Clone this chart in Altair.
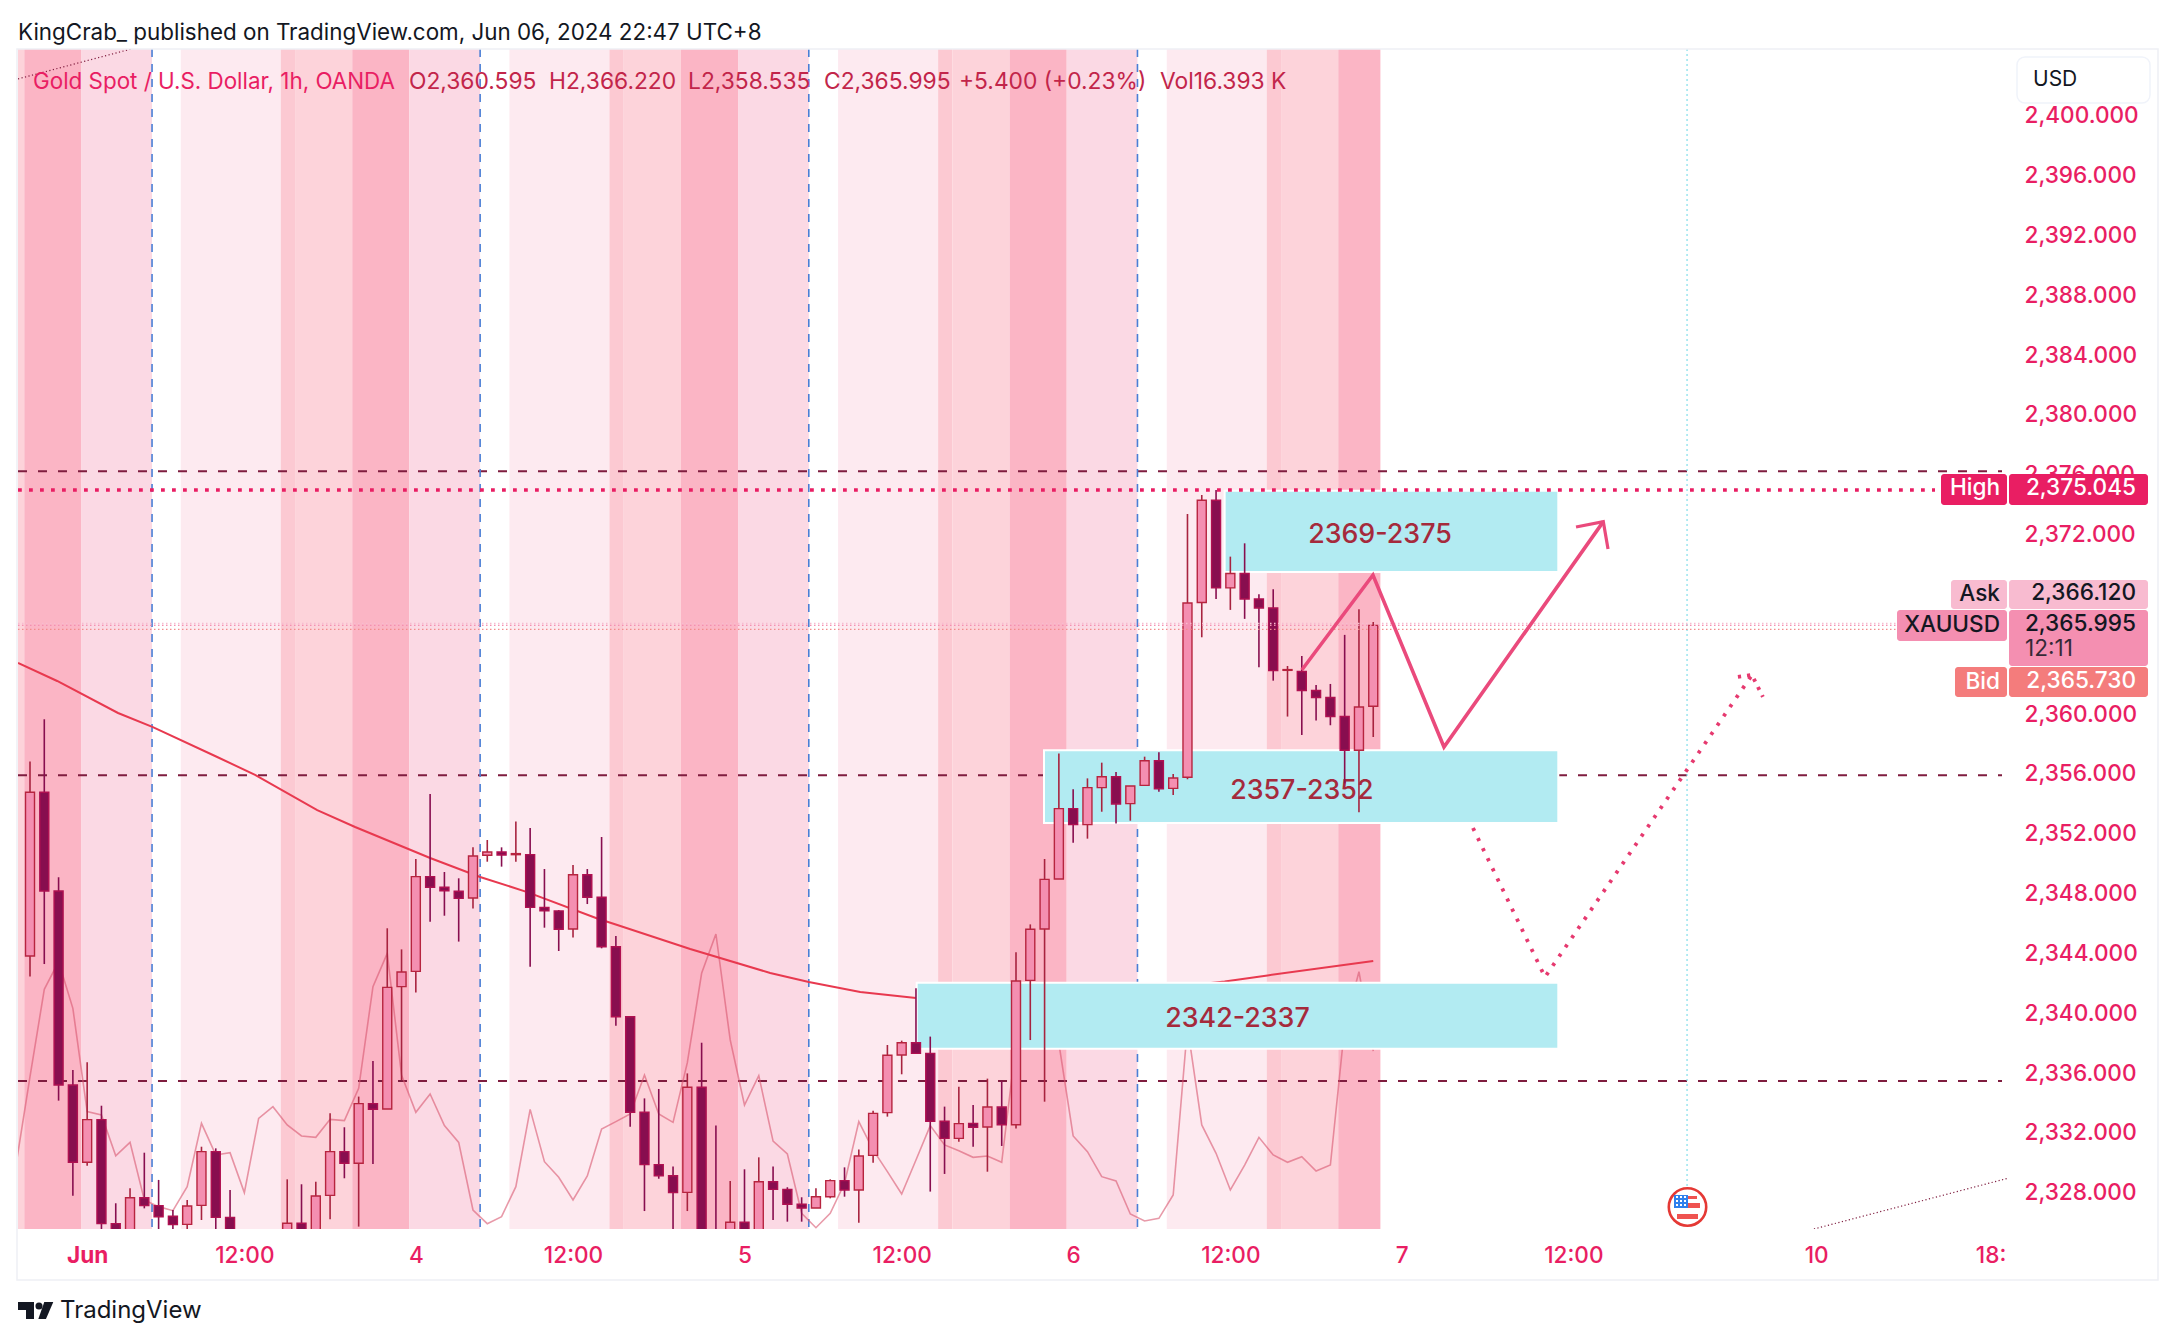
import altair as alt
import pandas as pd

FONT = "Inter"
INK = "#131722"
PINK = "#e91e63"

# ---------- candles (bar number, prices) ----------
candle_index = list(range(0, 15)) + list(range(18, 95))
candle_open = [2343.90, 2354.84, 2348.24, 2335.27, 2330.11, 2332.96, 2326.01, 2324.25, 2327.74, 2327.21,
               2326.50, 2325.96, 2327.23, 2330.82, 2326.43,
               2324.69, 2326.03, 2324.69, 2327.90, 2330.82, 2330.04, 2334.03, 2333.67, 2341.85, 2342.87,
               2349.20, 2348.49, 2348.22, 2347.77, 2350.63, 2350.85, 2350.67, 2350.67, 2347.15, 2346.91,
               2345.70, 2349.33, 2347.82, 2344.52, 2339.84, 2333.45, 2329.95, 2329.21, 2328.10, 2335.12,
               2324.69, 2324.69, 2326.10, 2324.69, 2328.81, 2328.30, 2327.30, 2327.05, 2327.81, 2328.88,
               2328.26, 2330.57, 2333.43, 2337.28, 2338.10, 2337.39, 2332.85, 2331.71, 2332.71, 2332.47,
               2333.80, 2332.62, 2342.27, 2345.70, 2349.04, 2353.75, 2352.68, 2355.15, 2355.88, 2354.08,
               2355.30, 2356.95, 2355.10, 2355.84, 2367.52, 2374.36, 2368.50, 2369.46, 2367.76, 2367.16,
               2362.99, 2362.91, 2361.64, 2361.17, 2359.90, 2357.65, 2360.595]
candle_close = [2354.84, 2348.24, 2335.27, 2330.11, 2332.96, 2326.01, 2324.69, 2327.74, 2327.21, 2326.47,
                2325.94, 2327.19, 2330.82, 2326.43, 2324.91,
                2326.03, 2324.69, 2327.86, 2330.82, 2330.04, 2334.03, 2333.65, 2341.80, 2342.83, 2349.20,
                2348.49, 2348.26, 2347.75, 2350.58, 2350.85, 2350.65, 2350.74, 2347.15, 2346.91, 2345.68,
                2349.33, 2347.82, 2344.52, 2339.84, 2333.45, 2329.95, 2329.21, 2328.08, 2335.12, 2324.69,
                2323.58, 2326.10, 2324.69, 2328.81, 2328.30, 2327.30, 2327.05, 2327.81, 2328.88, 2328.26,
                2330.53, 2333.38, 2337.26, 2338.10, 2337.39, 2332.85, 2331.71, 2332.69, 2332.45, 2333.80,
                2332.62, 2342.23, 2345.68, 2349.02, 2353.75, 2352.68, 2355.15, 2355.88, 2354.06, 2355.26,
                2356.95, 2355.08, 2355.79, 2367.49, 2374.36, 2368.50, 2369.46, 2367.76, 2367.16, 2362.97,
                2363.04, 2361.64, 2361.17, 2359.90, 2357.65, 2360.54, 2365.995]
candle_high = [2356.89, 2359.72, 2349.16, 2336.28, 2336.79, 2333.89, 2327.37, 2328.37, 2330.75, 2328.93,
               2326.92, 2327.59, 2331.15, 2331.04, 2328.26,
               2328.97, 2328.64, 2328.81, 2333.38, 2332.45, 2334.50, 2336.88, 2345.75, 2344.34, 2350.38,
               2354.73, 2349.51, 2349.09, 2351.16, 2351.65, 2351.16, 2352.88, 2352.45, 2349.71, 2346.97,
               2349.98, 2349.71, 2351.85, 2345.23, 2339.84, 2334.38, 2335.01, 2329.82, 2336.05, 2338.10,
               2332.56, 2328.86, 2329.64, 2330.44, 2329.82, 2328.44, 2327.77, 2328.37, 2328.97, 2329.77,
               2330.97, 2333.56, 2337.95, 2338.24, 2341.74, 2338.51, 2333.83, 2335.16, 2333.94, 2335.70,
               2335.56, 2344.14, 2346.01, 2350.38, 2357.44, 2355.04, 2355.77, 2356.82, 2356.20, 2355.26,
               2357.22, 2357.51, 2356.06, 2373.44, 2374.71, 2375.05, 2370.59, 2371.48, 2368.07, 2368.41,
               2363.28, 2363.95, 2362.01, 2362.08, 2365.36, 2367.07, 2366.22]
candle_low = [2342.52, 2343.36, 2334.23, 2327.88, 2329.88, 2325.36, 2323.80, 2323.80, 2327.03, 2325.36,
              2325.36, 2325.36, 2326.25, 2325.36, 2324.25,
              2324.02, 2324.25, 2324.25, 2326.30, 2329.04, 2325.81, 2330.00, 2333.67, 2335.61, 2341.45,
              2346.19, 2346.59, 2344.86, 2347.08, 2350.20, 2349.87, 2350.20, 2343.18, 2345.79, 2344.23,
              2345.14, 2347.37, 2344.41, 2339.24, 2332.49, 2326.85, 2329.01, 2325.36, 2326.85, 2323.80,
              2322.46, 2324.25, 2324.25, 2324.25, 2326.25, 2326.14, 2326.14, 2327.05, 2327.70, 2327.81,
              2326.07, 2330.08, 2333.16, 2335.99, 2337.39, 2328.15, 2329.33, 2331.49, 2331.15, 2329.48,
              2331.20, 2332.36, 2338.28, 2334.16, 2349.04, 2351.47, 2351.74, 2353.54, 2352.76, 2352.94,
              2355.30, 2354.88, 2354.66, 2355.71, 2365.20, 2367.76, 2367.03, 2366.43, 2363.20, 2362.30,
              2359.90, 2358.67, 2359.63, 2359.32, 2355.44, 2353.50, 2358.535]

# ---------- moving average ----------
ma_index = [-0.84, 1.9, 6.16, 8.6, 13.1, 15.75, 20.1, 22.75, 28, 31.5, 34.8, 39.7, 41.1, 46.2, 51.8, 54.5,
            58.1, 62, 67.9, 75, 83.6, 86.6, 94]
ma_price = [2363.48, 2362.28, 2360.14, 2359.2, 2357.2, 2356.0, 2353.65, 2352.52, 2350.45, 2349.18, 2348.17,
            2346.4, 2345.97, 2344.36, 2342.76, 2342.16, 2341.49, 2341.09, 2340.96, 2341.29, 2342.2, 2342.6,
            2343.56]

# ---------- volume (thousands), bars -1 .. 94 ----------
volume = [5.74, 14.03, 22.07, 24.62, 20.32, 10.81, 10.5, 6.75, 7.98, 2.67, 2.06, 1.69, 3.9, 9.73, 6.82, 7.03,
          3.35, 10.19, 11.27, 9.58, 8.57, 8.44, 10.1, 9.98, 12.96, 22.32, 25.39, 14.18, 10.75, 12.43, 9.52,
          7.98, 1.75, 0.49, 1.14, 3.9, 11.02, 6.2, 4.76, 2.67, 4.88, 9.21, 9.89, 10.59, 14.18, 10.59, 9.82,
          15.32, 23.55, 27.17, 17.41, 11.42, 14.12, 8.1, 6.91, 1.44, 0.12, 1.44, 4.21, 9.89, 7.28, 5.28,
          3.22, 6.36, 9.52, 7.74, 7.21, 6.6, 6.72, 6.14, 17.1, 20.17, 20.17, 17.1, 8.57, 7.12, 4.82, 4.42,
          1.38, 0.74, 0.98, 3.13, 18.64, 9.58, 6.97, 3.59, 5.89, 8.44, 6.82, 6.14, 6.66, 5.34, 5.89, 18.64,
          23.7, 16.39]
volume_index = list(range(-1, 95))

# ---------- session bands ----------
band_start = [-0.84, -0.4, 3.6, 10.55, 17.55, 18.55, 22.55, 26.55, 33.55, 40.55, 41.55, 45.55, 49.55,
              56.55, 63.55, 64.55, 68.55, 72.55, 79.55, 86.55, 87.55, 91.55]
band_end = [-0.4, 3.6, 8.54, 17.55, 18.55, 22.55, 26.55, 31.5, 40.55, 41.55, 45.55, 49.55, 54.5,
            63.55, 64.55, 68.55, 72.55, 77.5, 86.55, 87.55, 91.55, 94.5]
band_color = ["#fdd3da", "#fbb5c5", "#fbd9e4", "#fdeaf0", "#fcc9d2", "#fdd3da", "#fbb5c5", "#fbd9e4",
              "#fdeaf0", "#fcc9d2", "#fdd3da", "#fbb5c5", "#fbd9e4",
              "#fdeaf0", "#fcc9d2", "#fdd3da", "#fbb5c5", "#fbd9e4",
              "#fdeaf0", "#fcc9d2", "#fdd3da", "#fbb5c5"]
session_lines = [8.54, 31.5, 54.5, 77.5]

# ---------- levels, zones ----------
dash_levels = [2376.3, 2355.97, 2335.55]
high_level = 2375.045
last_levels = [2366.12, 2365.995, 2365.73]
last_colors = ["#f8bbd0", "#f48fb1", "#f28b8b"]
zone_start = [83.6, 70.96, 62.05]
zone_end = [106.95, 106.95, 106.95]
zone_top = [2375.0, 2357.65, 2342.11]
zone_bottom = [2369.56, 2352.79, 2337.7]
zone_text = ["2369-2375", "2357-2352", "2342-2337"]
zone_text_x = [94.47, 89, 84.5]
zone_text_y = [2372.05, 2354.9, 2339.7]

# ---------- drawings ----------
solid_i = [89.0, 93.98, 98.95, 110.1]
solid_p = [2363.01, 2369.36, 2357.87, 2372.93]
head_i = [108.19, 110.1, 110.43]
head_p = [2372.57, 2372.93, 2371.1]
dotted_i = [100.98, 106.02, 120.5]
dotted_p = [2352.45, 2342.49, 2362.68]
dhead_i = [119.52, 120.5, 121.27]
dhead_p = [2362.55, 2362.68, 2361.21]
trend_a_i = [-0.84, 7.07]
trend_a_p = [2402.52, 2404.52]
trend_b_i = [124.84, 138.49]
trend_b_p = [2325.65, 2329.06]
event_line = 115.96

# ---------- axes ----------
x_ticks = [4, 15, 27, 38, 50, 61, 73, 84, 96, 108, 125, 137.2]
x_labels = ["Jun", "12:00", "4", "12:00", "5", "12:00", "6", "12:00", "7", "12:00", "10", "18:"]
y_ticks = [2328, 2332, 2336, 2340, 2344, 2348, 2352, 2356, 2360, 2372, 2376, 2380, 2384, 2388, 2392, 2396, 2400]

X_DOMAIN = [-0.84, 138.49]
Y_DOMAIN = [2325.65, 2404.52]
xs = alt.Scale(domain=X_DOMAIN, nice=False, zero=False, padding=0)
ys = alt.Scale(domain=Y_DOMAIN, nice=False, zero=False)
EMPTY = alt.Data(values=[{}])
LABEL = 22.6

label_map = "{" + ",".join(f"'{k}':'{v}'" for k, v in zip(x_ticks, x_labels)) + "}"
x_axis = alt.Axis(
    values=x_ticks, labelExpr=f"{label_map}[datum.value]", title=None, grid=False, domain=False,
    ticks=False, labelFont=FONT, labelFontSize=LABEL, labelColor=PINK, labelPadding=26, labelOverlap=False,
    labelFlush=False, labelBaseline="middle", labelAngle=0,
    labelFontWeight=alt.expr("datum.value==4?700:500"))


def X(f="i"):
    return alt.X(f"{f}:Q", scale=xs, axis=x_axis)


def Y(f="p"):
    return alt.Y(f"{f}:Q", scale=ys, axis=None)


def poly(i, p, color, width, dash=None, opacity=1.0, clip=True):
    df = pd.DataFrame({"i": i, "p": p, "s": range(len(i))})
    kw = {"strokeDash": dash} if dash else {}
    return alt.Chart(df).mark_line(color=color, strokeWidth=width, opacity=opacity, clip=clip, **kw).encode(
        x=X(), y=Y(), order=alt.Order("s:Q"))


def px_rect(x1, x2, y1, y2, fill, radius=0, stroke=None):
    kw = {"stroke": stroke, "strokeWidth": 1.5} if stroke else {}
    return alt.Chart(EMPTY).mark_rect(fill=fill, cornerRadius=radius, **kw).encode(
        x=alt.value(x1 - 18), x2=alt.value(x2 - 18), y=alt.value(y1 - 49), y2=alt.value(y2 - 49))


def px_text(t, x, y, size=LABEL, color=INK, align="left", weight=400, opacity=1.0):
    return alt.Chart(EMPTY).mark_text(text=t, font=FONT, fontSize=size, color=color, align=align,
                                      baseline="middle", fontWeight=weight, opacity=opacity).encode(
        x=alt.value(x - 18), y=alt.value(y - 49))


def px_symbol(shape, x, y, size, color, stroke=None):
    kw = {"stroke": stroke, "strokeWidth": 2.6} if stroke else {}
    return alt.Chart(EMPTY).mark_point(shape=shape, size=size, filled=True, fill=color, opacity=1, **kw).encode(
        x=alt.value(x - 18), y=alt.value(y - 49))


layers = []

# bands
bands = pd.DataFrame({"a": band_start, "b": band_end, "c": band_color})
layers.append(alt.Chart(bands).mark_rect().encode(
    x=X("a"), x2="b:Q", color=alt.Color("c:N", scale=None)))

# price axis
layers.append(alt.Chart(pd.DataFrame({"p": dash_levels})).mark_rule(color="#7f1d3f", strokeWidth=2, strokeDash=[9, 11]).encode(
    x=alt.value(0), x2=alt.value(1984),
    y=alt.Y("p:Q", scale=ys, axis=alt.Axis(
        values=y_ticks, format=",.3f", orient="right", title=None, grid=False, domain=False, ticks=False,
        labelFont=FONT, labelFontSize=LABEL, labelColor=PINK, labelPadding=15, labelAlign="left",
        labelBaseline="middle", labelOffset=-1, labelFontWeight=500, labelOverlap=False, labelFlush=False))))

# session separators, event line
layers.append(alt.Chart(pd.DataFrame({"i": session_lines})).mark_rule(color="#4a7fd6", strokeWidth=1.6, strokeDash=[8, 7]).encode(x=X()))
layers.append(alt.Chart(pd.DataFrame({"i": [event_line]})).mark_rule(color="#80deea", strokeWidth=1.2, strokeDash=[2, 3]).encode(
    x=X(), y=alt.value(0), y2=alt.value(1137)))

# volume
vol = pd.DataFrame({"i": volume_index, "v": volume})
layers.append(alt.Chart(vol).mark_line(color="#d9566f", strokeWidth=1.6, opacity=0.6, clip=True).encode(
    x=X(), y=alt.Y("v:Q", scale=alt.Scale(domain=[0, 108.68], nice=False, zero=False), axis=None)))

# moving average
layers.append(poly(ma_index, ma_price, "#e8394f", 2))

# zones
zones = pd.DataFrame({"a": zone_start, "b": zone_end, "t": zone_top, "u": zone_bottom})
layers.append(alt.Chart(zones).mark_rect(fill="#b2ebf2", stroke="#ffffff", strokeWidth=2).encode(
    x=X("a"), x2="b:Q", y=Y("t"), y2="u:Q"))
ztext = pd.DataFrame({"i": zone_text_x, "p": zone_text_y, "t": zone_text})
layers.append(alt.Chart(ztext).mark_text(font=FONT, fontSize=26.8, fontWeight=500, color="#a52a3c").encode(
    x=X(), y=Y(), text="t:N"))

# candles
c = pd.DataFrame({"i": candle_index, "o": candle_open, "h": candle_high, "l": candle_low, "c": candle_close})
c["fill"] = ["#f48fb1" if b >= a else "#880e4f" for a, b in zip(c.o, c.c)]
c["edge"] = ["#b7243f" if b >= a else "#b01050" for a, b in zip(c.o, c.c)]
c["wick"] = ["#a8233f" if b >= a else "#880e4f" for a, b in zip(c.o, c.c)]
layers.append(alt.Chart(c).mark_rule(strokeWidth=1.6, clip=True).encode(
    x=X(), y=Y("h"), y2="l:Q", color=alt.Color("wick:N", scale=None)))
layers.append(alt.Chart(c).mark_bar(size=9, strokeWidth=1.4, clip=True, orient="vertical").encode(
    x=X(), y=Y("o"), y2="c:Q", color=alt.Color("fill:N", scale=None), stroke=alt.Stroke("edge:N", scale=None)))

# high and last price lines
layers.append(alt.Chart(pd.DataFrame({"p": [high_level]})).mark_rule(color=PINK, strokeWidth=3.4, strokeDash=[3.8, 7.2]).encode(
    x=alt.value(0), x2=alt.value(1917), y=Y()))
last = pd.DataFrame({"p": last_levels, "k": last_colors})
layers.append(alt.Chart(last).mark_rule(strokeWidth=1.3, strokeDash=[1.5, 2.5]).encode(
    x=alt.value(0), x2=alt.value(1879), y=Y(), color=alt.Color("k:N", scale=None)))

# drawings
layers.append(poly(solid_i, solid_p, "#ea4a7c", 3.6))
layers.append(poly(head_i, head_p, "#ea4a7c", 3.2))
layers.append(poly(dotted_i, dotted_p, "#e6396f", 3.8, dash=[3.2, 8]))
layers.append(poly(dhead_i, dhead_p, "#e6396f", 3.8, dash=[3.2, 6]))
layers.append(poly(trend_a_i, trend_a_p, "#7f1d3f", 1.2, dash=[1.2, 2.4]))
layers.append(poly(trend_b_i, trend_b_p, "#7f1d3f", 1.2, dash=[1.2, 2.4]))

# event flag
layers.append(px_symbol("circle", 1687.5, 1207, 1400, "#ffffff", stroke="#e53935"))
layers.append(px_rect(1677, 1698, 1214, 1219, "#ef5350"))
layers.append(px_rect(1688, 1700, 1203, 1208, "#ef5350"))
layers.append(px_rect(1688, 1697, 1196, 1199, "#ef5350"))
layers.append(px_rect(1674, 1688, 1195, 1208, "#2f80ed"))
for dy in [1197, 1201, 1205]:
    for dx in [1677, 1681, 1685]:
        layers.append(px_rect(dx - 1, dx + 1, dy - 1, dy + 1, "#ffffff"))

# header
layers.append(px_text("KingCrab_ published on TradingView.com, Jun 06, 2024 22:47 UTC+8", 18, 32.5, size=22.4))
layers.append(px_text("Gold Spot / U.S. Dollar, 1h, OANDA", 33, 81.5, size=22.4, color=PINK))
for t, x in [("O2,360.595", 409), ("H2,366.220", 549), ("L2,358.535", 688), ("C2,365.995", 824),
             ("+5.400 (+0.23%)", 959), ("Vol16.393 K", 1160)]:
    layers.append(px_text(t, x, 81.5, size=22.8, color="#c2254a"))

# frame
layers.append(alt.Chart(EMPTY).mark_rect(fill="#ffffff", fillOpacity=0, stroke="#eef0f5", strokeWidth=1.5).encode(
    x=alt.value(-1), x2=alt.value(2158 - 18), y=alt.value(0), y2=alt.value(1280 - 49)))

# price tags
layers.append(px_rect(1941, 2007, 474, 505, PINK, 3))
layers.append(px_rect(2009, 2148, 474, 505, PINK, 3))
layers.append(px_text("High", 2000, 488, color="#ffffff", align="right", weight=500))
layers.append(px_text("2,375.045", 2136, 488, color="#ffffff", align="right", weight=500))
layers.append(px_rect(1951, 2007, 580, 609, "#f8bbd0", 3))
layers.append(px_rect(2009, 2148, 580, 609, "#f8bbd0", 3))
layers.append(px_text("Ask", 2000, 594, align="right", weight=500))
layers.append(px_text("2,366.120", 2136, 593, align="right", weight=500))
layers.append(px_rect(1897, 2007, 610, 641, "#f48fb1", 3))
layers.append(px_rect(2009, 2148, 610, 666, "#f48fb1", 3))
layers.append(px_text("XAUUSD", 2000, 625, align="right", weight=500))
layers.append(px_text("2,365.995", 2136, 624, align="right", weight=500))
layers.append(px_text("12:11", 2025, 649, opacity=0.85))
layers.append(px_rect(1955, 2007, 667, 697, "#f47c7c", 3))
layers.append(px_rect(2009, 2148, 667, 697, "#f47c7c", 3))
layers.append(px_text("Bid", 2000, 682, color="#ffffff", align="right", weight=500))
layers.append(px_text("2,365.730", 2136, 681, color="#ffffff", align="right", weight=500))

# currency button
layers.append(px_rect(2017, 2150, 57, 103, "#ffffff", 8, stroke="#f0f3fa"))
layers.append(px_text("USD", 2033, 80, size=21))

# footer
layers.append(px_text("TradingView", 60, 1311, size=24))
layers.append(px_rect(18, 34, 1302, 1310, INK))
layers.append(px_rect(26, 34, 1302, 1319, INK))
layers.append(px_symbol("circle", 39, 1306, 50, INK))
layers.append(px_symbol("M-0.18,-1 L0.88,-1 L0.02,1 L-0.88,1 Z", 45.8, 1310.5, 289, INK))

chart = alt.layer(*layers).resolve_scale(y="independent", color="independent", stroke="independent").properties(
    width=1991, height=1180,
    padding={"left": 10, "top": 41, "right": 159, "bottom": 107},
    autosize=alt.AutoSizeParams(type="none"),
    background="#ffffff",
).configure_view(strokeWidth=0)

chart.save("out.html", embed_options={"renderer": "svg", "actions": False})
